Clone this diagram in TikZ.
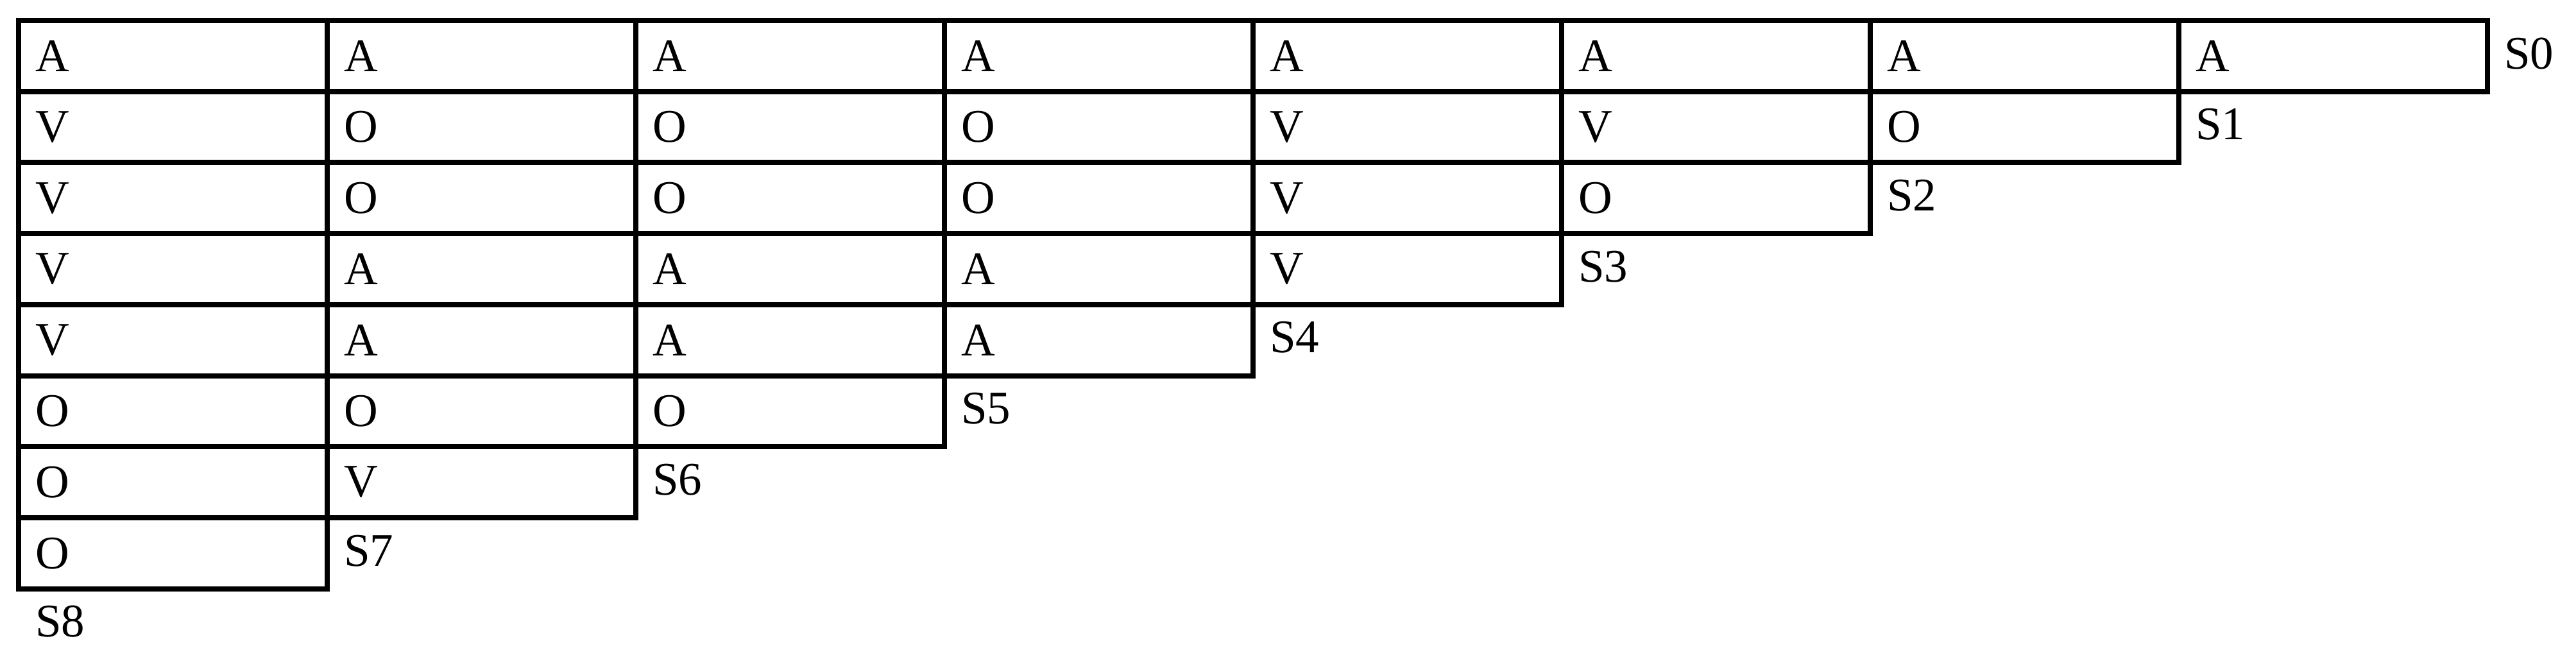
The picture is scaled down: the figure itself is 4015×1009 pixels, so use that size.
\documentclass[tikz,border=0pt]{standalone}
\usepackage{fontspec}
\setmainfont{Liberation Serif}
\begin{document}
\begin{tikzpicture}[x=0.1pt,y=-0.1pt,
  cell/.style={draw,line width=0.8pt,rectangle,anchor=north west,minimum height=11.07pt,
    text width=42.9pt,inner xsep=2.6pt,inner ysep=0pt,align=left,minimum width=48.1pt,
    font=\fontsize{7.3}{9}\selectfont},
  lab/.style={anchor=west,inner sep=0pt,font=\fontsize{7.3}{9}\selectfont}]
\useasboundingbox (0,0) rectangle (4015,1009);
\foreach \r/\lst in {0/{A,A,A,A,A,A,A,A},1/{V,O,O,O,V,V,O},2/{V,O,O,O,V,O},3/{V,A,A,A,V},4/{V,A,A,A},5/{O,O,O},6/{O,V},7/{O}}{
  \foreach \t [count=\c from 0] in \lst {
    \node[cell] (c\r-\c) at ({25+481*\c},{28+110.7*\r}) {\t};
  }
}
\foreach \r in {0,...,8}{
  \node[lab] (s\r) at ({25+481*(8-\r)+28},{28+110.7*(\r+0.5)}) {S\r};
}
\end{tikzpicture}
\end{document}
